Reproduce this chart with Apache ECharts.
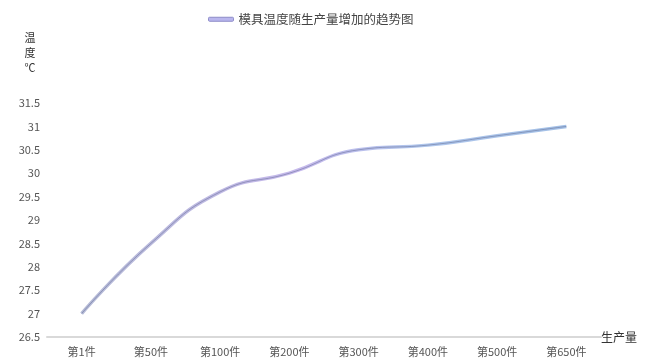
<!DOCTYPE html>
<html><head><meta charset="utf-8">
<script src="https://cdn.jsdelivr.net/npm/echarts@6/dist/echarts.min.js"></script>
<style>html,body{margin:0;padding:0;background:#fff}#c{width:649px;height:361px}</style>
</head><body><div id="c"></div>
<script>
const categories = ['第1件','第50件','第100件','第200件','第300件','第400件','第500件','第650件'];
const temperatures = [27, 28.5, 29.6, 30.0, 30.5, 30.6, 30.8, 31.0];
const seriesName = '模具温度随生产量增加的趋势图';
const xName = '生产量';
const yName = '温\n度\n℃';

const chart = echarts.init(document.getElementById('c'));
const grad = new echarts.graphic.LinearGradient(0, 0, 1, 0, [
  {offset: 0, color: '#b4bad6'},
  {offset: 0.45, color: '#c6b9ec'},
  {offset: 0.7, color: '#afc6ec'},
  {offset: 1, color: '#a3c0e6'}
]);
chart.setOption({
  animation: false,
  textStyle: {fontFamily: 'Noto Sans CJK SC'},
  legend: {
    data: [{name: seriesName, icon: 'roundRect', itemStyle: {color: '#b9b6ee', borderColor: '#8e8cc8', borderWidth: 1}}],
    left: 203, top: 8,
    itemWidth: 25, itemHeight: 4, itemGap: 5,
    textStyle: {fontSize: 12.5, color: '#444', fontFamily: 'Noto Sans CJK SC'}
  },
  grid: {left: 47, right: 48, top: 103, bottom: 24, containLabel: false},
  xAxis: {
    type: 'category',
    data: categories,
    boundaryGap: true,
    name: xName,
    nameLocation: 'end',
    nameGap: 0,
    nameTextStyle: {color: '#333', fontSize: 12, verticalAlign: 'middle', align: 'left'},
    axisLine: {lineStyle: {color: '#d9d9d9', width: 2}},
    axisTick: {show: false},
    axisLabel: {color: '#555', fontSize: 11, margin: 9},
    splitLine: {show: false}
  },
  yAxis: {
    type: 'value',
    min: 26.5, max: 31.5, interval: 0.5,
    name: yName,
    nameLocation: 'end',
    nameGap: 28,
    nameTextStyle: {color: '#333', fontSize: 11, lineHeight: 15, align: 'center', padding: [0, 34, 0, 0]},
    axisLine: {show: false},
    axisTick: {show: false},
    splitLine: {show: false},
    axisLabel: {color: '#555', fontSize: 11, margin: 7}
  },
  series: [
    {
      name: seriesName,
      type: 'line',
      data: temperatures,
      smooth: true,
      symbol: 'none',
      lineStyle: {width: 3.5, color: grad},
      itemStyle: {color: '#b9b6ee'}
    },
    {
      name: 'core',
      type: 'line',
      data: temperatures,
      smooth: true,
      symbol: 'none',
      silent: true,
      lineStyle: {width: 1, color: 'rgba(95,105,145,0.5)'}
    }
  ]
});
</script></body></html>
